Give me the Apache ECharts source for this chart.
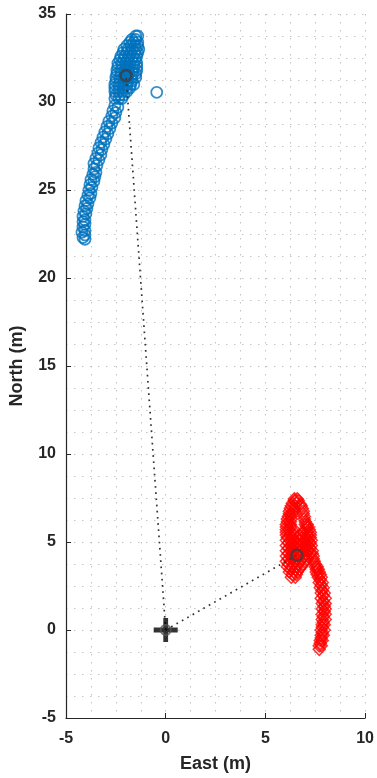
<!DOCTYPE html>
<html>
<head>
<meta charset="utf-8">
<script src="https://cdn.jsdelivr.net/npm/echarts@6/dist/echarts.min.js"></script>
<style>
  html, body { margin: 0; padding: 0; background: #fff; }
  #chart { width: 377px; height: 778px; }
</style>
</head>
<body>
<div id="chart"></div>
<script>
// axis ranges and tick values
const xTicks = [-5, 0, 5, 10];
const yTicks = [-5, 0, 5, 10, 15, 20, 25, 30, 35];

// blue track: [east, north]
const bluePoints = [
  [-1.5, 33.75], [-1.4, 33.75],
  [-1.7, 33.55], [-1.5, 33.55],
  [-1.8, 33.4], [-1.6, 33.4], [-1.4, 33.4],
  [-1.95, 33.2], [-1.75, 33.2], [-1.55, 33.2], [-1.4, 33.2],
  [-2.1, 33.0], [-1.9, 33.0], [-1.7, 33.0], [-1.5, 33.0], [-1.35, 33.0],
  [-2.15, 32.8], [-1.95, 32.8], [-1.75, 32.8], [-1.55, 32.8], [-1.4, 32.8],
  [-2.25, 32.6], [-2.05, 32.6], [-1.85, 32.6], [-1.65, 32.6], [-1.45, 32.6],
  [-2.3, 32.4], [-2.1, 32.4], [-1.9, 32.4], [-1.7, 32.4], [-1.5, 32.4],
  [-2.4, 32.2], [-2.2, 32.2], [-2.0, 32.2], [-1.8, 32.2], [-1.6, 32.2], [-1.45, 32.2],
  [-2.4, 32.0], [-2.2, 32.0], [-2.0, 32.0], [-1.8, 32.0], [-1.6, 32.0], [-1.45, 32.0],
  [-2.45, 31.8], [-2.25, 31.8], [-2.05, 31.8], [-1.85, 31.8], [-1.65, 31.8], [-1.45, 31.8],
  [-2.45, 31.6], [-2.25, 31.6], [-2.05, 31.6], [-1.85, 31.6], [-1.65, 31.6], [-1.5, 31.6],
  [-2.5, 31.4], [-2.3, 31.4], [-2.1, 31.4], [-1.9, 31.4], [-1.7, 31.4], [-1.5, 31.4],
  [-2.5, 31.2], [-2.3, 31.2], [-2.1, 31.2], [-1.9, 31.2], [-1.7, 31.2],
  [-2.55, 31.0], [-2.35, 31.0], [-2.15, 31.0], [-1.95, 31.0], [-1.75, 31.0], [-1.6, 31.0],
  [-2.55, 30.8], [-2.35, 30.8], [-2.15, 30.8], [-1.95, 30.8], [-1.8, 30.8],
  [-2.55, 30.6], [-2.35, 30.6], [-2.15, 30.6], [-1.95, 30.6],
  [-2.5, 30.4], [-2.3, 30.4], [-2.1, 30.4],
  [-2.55, 30.2], [-2.35, 30.2], [-2.2, 30.2],
  [-2.55, 29.8], [-2.4, 29.7], [-2.65, 29.5], [-2.5, 29.4], [-2.7, 29.2], [-2.55, 29.1],
  [-2.85, 28.9], [-2.7, 28.8], [-2.95, 28.6], [-2.8, 28.5], [-3.05, 28.3], [-2.9, 28.2],
  [-3.15, 28.0], [-3.0, 27.9], [-3.25, 27.7], [-3.1, 27.6], [-3.35, 27.4], [-3.2, 27.3],
  [-3.4, 27.1], [-3.25, 27.0], [-3.5, 26.8], [-3.35, 26.7], [-3.6, 26.5], [-3.45, 26.4],
  [-3.6, 26.2], [-3.5, 26.0], [-3.65, 25.9], [-3.55, 25.75], [-3.75, 25.6], [-3.6, 25.5],
  [-3.8, 25.3], [-3.7, 25.15], [-3.85, 25.0], [-3.75, 24.8], [-3.9, 24.7], [-3.8, 24.55],
  [-4.0, 24.4], [-3.9, 24.2], [-4.05, 24.1], [-3.95, 23.95], [-4.1, 23.8], [-4.0, 23.65],
  [-4.15, 23.5], [-4.05, 23.3], [-4.15, 23.2], [-4.05, 23.05], [-4.15, 22.9],
  [-4.05, 22.7], [-4.2, 22.6], [-4.05, 22.45], [-4.15, 22.3], [-4.05, 22.2],
  [-0.45, 30.55]
];

// red track: [east, north]
const redPoints = [
  [6.45, 7.45], [6.6, 7.45],
  [6.45, 7.35], [6.65, 7.35],
  [6.35, 7.2], [6.55, 7.2], [6.75, 7.15],
  [6.3, 7.05], [6.5, 7.05], [6.8, 7.05],
  [6.25, 6.9], [6.45, 6.9], [6.85, 6.9],
  [6.2, 6.75], [6.4, 6.75], [6.9, 6.75],
  [6.2, 6.6], [6.35, 6.6], [6.9, 6.6],
  [6.15, 6.45], [6.3, 6.45], [6.95, 6.45],
  [6.1, 6.3], [6.3, 6.3], [6.95, 6.3],
  [6.1, 6.15], [6.25, 6.15], [7.0, 6.15],
  [6.05, 6.0], [6.25, 6.0], [7.0, 6.0], [7.1, 6.0],
  [6.05, 5.85], [6.25, 5.85], [7.05, 5.85], [7.15, 5.85],
  [6.05, 5.7], [6.2, 5.7], [6.45, 5.7], [7.05, 5.7], [7.2, 5.7],
  [6.05, 5.55], [6.25, 5.55], [6.45, 5.55], [6.9, 5.55], [7.1, 5.55], [7.25, 5.55],
  [6.05, 5.4], [6.25, 5.4], [6.45, 5.4], [6.7, 5.4], [7.1, 5.4], [7.25, 5.4],
  [6.1, 5.25], [6.35, 5.25], [6.6, 5.25], [6.85, 5.25], [7.05, 5.25], [7.25, 5.25],
  [6.05, 5.1], [6.25, 5.1], [6.45, 5.1], [6.7, 5.1], [6.95, 5.1], [7.15, 5.1], [7.3, 5.1],
  [6.15, 4.95], [6.35, 4.95], [6.6, 4.95], [6.85, 4.95], [7.05, 4.95], [7.25, 4.95],
  [6.05, 4.8], [6.25, 4.8], [6.45, 4.8], [6.7, 4.8], [6.95, 4.8], [7.15, 4.8], [7.3, 4.8],
  [6.15, 4.65], [6.35, 4.65], [6.6, 4.65], [6.85, 4.65], [7.05, 4.65], [7.25, 4.65],
  [6.05, 4.5], [6.25, 4.5], [6.45, 4.5], [6.7, 4.5], [6.95, 4.5], [7.15, 4.5], [7.35, 4.5],
  [6.15, 4.35], [6.35, 4.35], [6.6, 4.35], [6.85, 4.35], [7.05, 4.35], [7.25, 4.35], [7.35, 4.35],
  [6.05, 4.2], [6.25, 4.2], [6.45, 4.2], [6.7, 4.2], [6.95, 4.2], [7.15, 4.2], [7.4, 4.2],
  [6.15, 4.05], [6.35, 4.05], [6.6, 4.05], [6.85, 4.05], [7.1, 4.05], [7.4, 4.05],
  [6.05, 3.9], [6.25, 3.9], [6.5, 3.9], [6.75, 3.9], [7.0, 3.9], [7.45, 3.9],
  [6.15, 3.75], [6.4, 3.75], [6.65, 3.75], [6.9, 3.75], [7.5, 3.75],
  [6.1, 3.6], [6.3, 3.6], [6.55, 3.6], [6.8, 3.6], [7.5, 3.6], [7.6, 3.6],
  [6.25, 3.45], [6.5, 3.45], [6.7, 3.45], [7.55, 3.45], [7.65, 3.45],
  [6.2, 3.3], [6.4, 3.3], [6.6, 3.3], [7.55, 3.3], [7.7, 3.3],
  [6.35, 3.15], [6.55, 3.15], [7.6, 3.15], [7.75, 3.15],
  [6.3, 3.0], [6.5, 3.0], [7.65, 3.0], [7.8, 3.0],
  [7.75, 2.85], [7.7, 2.7], [7.85, 2.7], [7.8, 2.55],
  [7.75, 2.4], [7.9, 2.4], [7.85, 2.25],
  [7.8, 2.1], [7.95, 2.1], [7.9, 1.95],
  [7.8, 1.8], [8.0, 1.8], [7.9, 1.65],
  [7.85, 1.5], [8.0, 1.5], [7.95, 1.35],
  [7.85, 1.2], [8.0, 1.2], [7.95, 1.05],
  [7.85, 0.9], [8.0, 0.9], [7.9, 0.75],
  [7.85, 0.6], [8.0, 0.6], [7.9, 0.45],
  [7.85, 0.3], [7.95, 0.3], [7.85, 0.15],
  [7.8, 0.0], [7.95, 0.0], [7.85, -0.15],
  [7.8, -0.3], [7.9, -0.3], [7.8, -0.45],
  [7.75, -0.6], [7.85, -0.6], [7.75, -0.75],
  [7.7, -0.9], [7.8, -0.9],
  [7.7, -1.1]
];

// mean positions and reference origin
const blueMean = [-1.99, 31.5];
const redMean = [6.58, 4.25];
const origin = [0, 0];

const axisColor = '#262626';
const font = '"Liberation Sans", Arial, Helvetica, sans-serif';
const gridDots = { color: '#c4c4c4', width: 1, type: [1.5, 6.5] };

const chart = echarts.init(document.getElementById('chart'));

function axisBase(min, max) {
  return {
    type: 'value',
    min: min,
    max: max,
    interval: 5,
    axisLine: { show: true, onZero: false, lineStyle: { color: axisColor, width: 1.2 } },
    axisTick: { show: true, inside: true, length: 5, lineStyle: { color: axisColor } },
    minorTick: { show: false, splitNumber: 4 },
    splitLine: { show: true, lineStyle: gridDots },
    minorSplitLine: { show: true, lineStyle: gridDots },
    nameLocation: 'middle',
    nameTextStyle: { fontFamily: font, fontWeight: 'bold', fontSize: 18, color: axisColor }
  };
}

const xAxis = Object.assign(axisBase(xTicks[0], xTicks[xTicks.length - 1]), {
  name: 'East (m)',
  nameGap: 37,
  axisLabel: { margin: 13, fontFamily: font, fontWeight: 'bold', fontSize: 16, color: axisColor }
});
const yAxis = Object.assign(axisBase(yTicks[0], yTicks[yTicks.length - 1]), {
  name: 'North (m)',
  nameGap: 40,
  axisLabel: { margin: 10, fontFamily: font, fontWeight: 'bold', fontSize: 16, color: axisColor }
});

const dotted = { color: '#333', width: 1.7, type: [1.7, 4.5], cap: 'butt' };

chart.setOption({
  animation: false,
  backgroundColor: '#fff',
  grid: { left: 65, top: 14, width: 303, height: 705, containLabel: false },
  xAxis: xAxis,
  yAxis: yAxis,
  series: [
    {
      type: 'scatter',
      data: bluePoints,
      symbol: 'circle',
      symbolSize: 11,
      itemStyle: { color: 'rgba(0,0,0,0)', borderColor: '#0072BD', borderWidth: 1.8 },
      z: 2
    },
    {
      type: 'scatter',
      data: redPoints,
      symbol: 'diamond',
      symbolSize: 12,
      itemStyle: { color: 'rgba(0,0,0,0)', borderColor: '#FF0000', borderWidth: 1.5 },
      z: 2
    },
    {
      type: 'line',
      data: [origin, blueMean],
      symbol: 'none',
      lineStyle: dotted,
      z: 3
    },
    {
      type: 'line',
      data: [origin, redMean],
      symbol: 'none',
      lineStyle: dotted,
      z: 3
    },
    {
      type: 'scatter',
      data: [blueMean, redMean],
      symbol: 'circle',
      symbolSize: 11,
      itemStyle: { color: 'rgba(0,0,0,0)', borderColor: '#3d3d3d', borderWidth: 2.6 },
      z: 4
    },
    {
      type: 'scatter',
      data: [origin],
      symbol: 'path://M2,0H3V2H5V3H3V5H2V3H0V2H2Z',
      symbolSize: 24,
      itemStyle: { color: '#000' },
      z: 5
    },
    {
      type: 'scatter',
      data: [origin],
      symbol: 'circle',
      symbolSize: 10,
      itemStyle: { color: 'rgba(0,0,0,0)', borderColor: '#555', borderWidth: 2 },
      z: 6
    }
  ]
});
</script>
</body>
</html>
